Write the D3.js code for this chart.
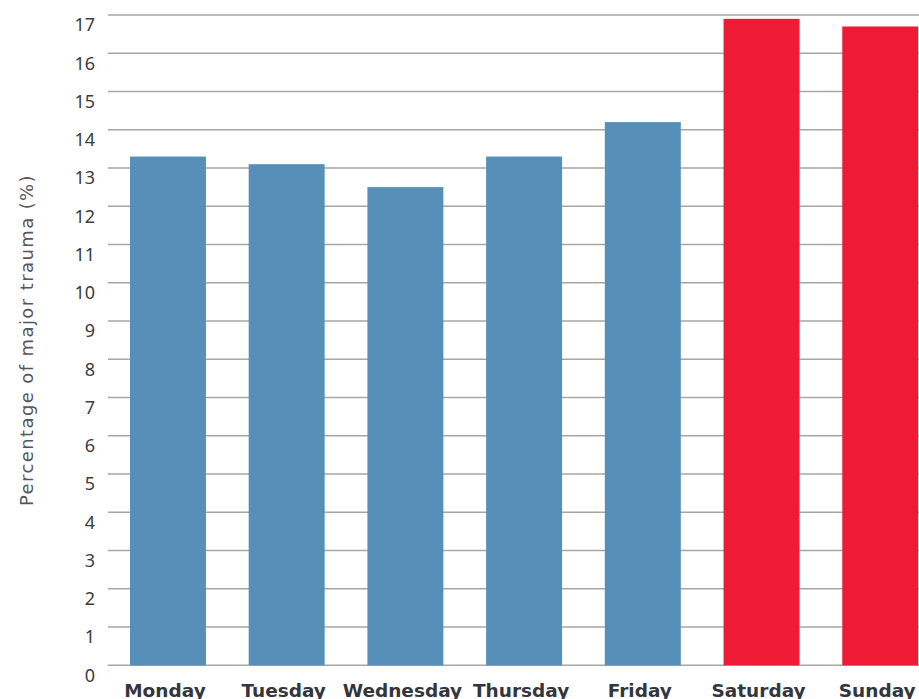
<!DOCTYPE html>
<html>
<head>
<meta charset="utf-8">
<script src="https://cdn.jsdelivr.net/npm/d3@7"></script>
<style>
  html, body { margin: 0; padding: 0; background: #fff; }
  svg { display: block; font-family: "Noto Sans", Lato, sans-serif; }
</style>
</head>
<body>
<svg id="chart" width="919" height="699"></svg>
<script>
// data
const days = ["Monday", "Tuesday", "Wednesday", "Thursday", "Friday", "Saturday", "Sunday"];
const percentages = [13.3, 13.1, 12.5, 13.3, 14.2, 16.9, 16.7];
const weekend = ["Saturday", "Sunday"];
const yTicks = d3.range(0, 18);

const svg = d3.select("#chart");

const x = d3.scaleBand()
  .domain(days)
  .range([108.6, 939.6])
  .paddingInner(0.36)
  .paddingOuter(0.18);

const y = d3.scaleLinear()
  .domain([0, 17])
  .range([665.3, 15]);

// gridlines
svg.append("g")
  .selectAll("line")
  .data(yTicks)
  .enter()
  .append("line")
  .attr("x1", 108)
  .attr("x2", 919)
  .attr("y1", d => y(d))
  .attr("y2", d => y(d))
  .attr("stroke", "#a6a6a6")
  .attr("stroke-width", 1.5);

// y tick labels (sit a little below their gridline)
svg.append("g")
  .selectAll("text")
  .data(yTicks)
  .enter()
  .append("text")
  .attr("x", 95)
  .attr("y", d => y(d) + 10)
  .attr("dy", "0.35em")
  .attr("text-anchor", "end")
  .attr("fill", "#3b3d42")
  .style("font-size", "18px")
  .text(d => d);

// bars
svg.append("g")
  .selectAll("rect")
  .data(days)
  .enter()
  .append("rect")
  .attr("x", d => x(d))
  .attr("y", (d, i) => y(percentages[i]))
  .attr("width", x.bandwidth())
  .attr("height", (d, i) => y(0) - y(percentages[i]))
  .attr("fill", d => weekend.includes(d) ? "#ed1b34" : "#568fb7");

// x labels
svg.append("g")
  .selectAll("text")
  .data(days)
  .enter()
  .append("text")
  .attr("x", d => x(d) + x.bandwidth() / 2 - 3)
  .attr("y", 697)
  .attr("text-anchor", "middle")
  .attr("fill", "#33363d")
  .style("font-family", "'DejaVu Sans', sans-serif")
  .style("font-size", "18.5px")
  .style("font-weight", "bold")
  .text(d => d);

// y title
svg.append("text")
  .attr("transform", "translate(33,340) rotate(-90)")
  .attr("text-anchor", "middle")
  .attr("fill", "#55575c")
  .style("font-family", "'DejaVu Sans', sans-serif")
  .style("font-size", "18px")
  .style("letter-spacing", "1.4px")
  .text("Percentage of major trauma (%)");
</script>
</body>
</html>
